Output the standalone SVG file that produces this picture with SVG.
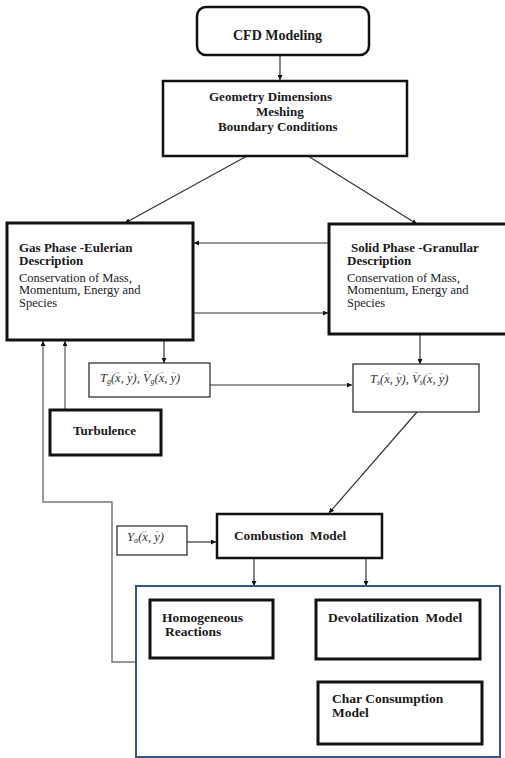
<svg xmlns="http://www.w3.org/2000/svg" width="505" height="758" viewBox="0 0 505 758" font-family="'Liberation Serif', 'Times New Roman', 'DejaVu Serif', serif">
<defs>
<style>
.box{fill:#fff;stroke:#111;stroke-width:3}
.mid{fill:#fff;stroke:#111;stroke-width:2.5}
.thin{fill:#fff;stroke:#222;stroke-width:1.2}
.blue{fill:#fff;stroke:#2e5597;stroke-width:2}
.c{fill:none;stroke:#333;stroke-width:1.2}
.g{fill:none;stroke:#777;stroke-width:1.5}
text{font-family:'Liberation Serif','Times New Roman','DejaVu Serif',serif;fill:#1a1a1a}
.b{font-weight:bold;font-size:13px}
.r{font-size:12.5px}
.m{font-style:italic;font-size:12.5px;fill:#333}
.s{font-size:8px}
.v{font-size:6px;font-style:normal}
</style>
<marker id="ah" viewBox="0 0 10 10" refX="10" refY="5" markerWidth="5" markerHeight="5" orient="auto" markerUnits="userSpaceOnUse">
<path d="M0,0L10,5L0,10z" fill="#111"/>
</marker>
</defs>
<rect width="505" height="758" fill="#fff"/>

<g id="connectors">
<line class="c" x1="280" y1="55" x2="280" y2="80" marker-end="url(#ah)"/>
<line class="c" x1="247" y1="156" x2="125" y2="223" marker-end="url(#ah)"/>
<line class="c" x1="308" y1="156" x2="417" y2="224" marker-end="url(#ah)"/>
<line class="c" x1="329" y1="243" x2="194" y2="243" marker-end="url(#ah)"/>
<line class="c" x1="193" y1="313" x2="328" y2="313" marker-end="url(#ah)"/>
<line class="c" x1="164" y1="340" x2="164" y2="363" marker-end="url(#ah)"/>
<line class="g" x1="210" y1="385" x2="352" y2="385" marker-end="url(#ah)"/>
<line class="c" x1="420" y1="334" x2="420" y2="364" marker-end="url(#ah)"/>
<line class="c" x1="417" y1="412" x2="329" y2="513" marker-end="url(#ah)"/>
<line class="g" x1="65" y1="410" x2="65" y2="341" marker-end="url(#ah)"/>
<polyline class="g" points="136,662 112,662 112,502 43,502 43,341" marker-end="url(#ah)"/>
<line class="c" x1="187" y1="542" x2="216" y2="542" marker-end="url(#ah)"/>
<line class="c" x1="254" y1="558" x2="254" y2="586" marker-end="url(#ah)"/>
<line class="c" x1="366" y1="558" x2="366" y2="586" marker-end="url(#ah)"/>
<line class="c" x1="371" y1="659" x2="371" y2="682" marker-end="url(#ah)"/>
</g>

<g id="cfd">
<rect class="mid" x="197" y="7" width="172" height="48" rx="9"/>
<text class="b" x="233" y="40" style="font-size:14px">CFD Modeling</text>
</g>

<g id="geometry">
<rect class="mid" x="163" y="81" width="244" height="75"/>
<text class="b" x="209" y="101">Geometry Dimensions</text>
<text class="b" x="256" y="116">Meshing</text>
<text class="b" x="218" y="131">Boundary Conditions</text>
</g>

<g id="gas">
<rect class="box" x="7" y="223" width="186" height="117"/>
<text class="b" x="19" y="252">Gas Phase -Eulerian</text>
<text class="b" x="19" y="265">Description</text>
<text class="r" x="19" y="282">Conservation of Mass,</text>
<text class="r" x="19" y="294">Momentum, Energy and</text>
<text class="r" x="19" y="307">Species</text>
</g>

<g id="solid">
<rect class="box" x="329" y="224" width="190" height="110"/>
<text class="b" x="351" y="252">Solid Phase -Granullar</text>
<text class="b" x="347" y="265">Description</text>
<text class="r" x="347" y="282">Conservation of Mass,</text>
<text class="r" x="347" y="294">Momentum, Energy and</text>
<text class="r" x="347" y="307">Species</text>
</g>

<g id="tg">
<rect class="thin" x="89" y="363" width="121" height="34"/>
<text class="m" x="100" y="382">T<tspan class="s" dy="2">g</tspan><tspan dy="-2">(x</tspan><tspan class="v" dx="-5.8" dy="-8">→</tspan><tspan dx="-0.2" dy="8">, y</tspan><tspan class="v" dx="-5.8" dy="-8">→</tspan><tspan dx="-0.2" dy="8">), V</tspan><tspan class="v" dx="-6.8" dy="-9">→</tspan><tspan class="s" dx="0.8" dy="11">g</tspan><tspan dy="-2">(x</tspan><tspan class="v" dx="-5.8" dy="-8">→</tspan><tspan dx="-0.2" dy="8">, y</tspan><tspan class="v" dx="-5.8" dy="-8">→</tspan><tspan dx="-0.2" dy="8">)</tspan></text>
</g>

<g id="ts">
<rect class="thin" x="353" y="364" width="126" height="48"/>
<text class="m" x="370" y="383">T<tspan class="s" dy="2">s</tspan><tspan dy="-2">(x</tspan><tspan class="v" dx="-5.8" dy="-8">→</tspan><tspan dx="-0.2" dy="8">, y</tspan><tspan class="v" dx="-5.8" dy="-8">→</tspan><tspan dx="-0.2" dy="8">), V</tspan><tspan class="v" dx="-6.8" dy="-9">→</tspan><tspan class="s" dx="0.8" dy="11">s</tspan><tspan dy="-2">(x</tspan><tspan class="v" dx="-5.8" dy="-8">→</tspan><tspan dx="-0.2" dy="8">, y</tspan><tspan class="v" dx="-5.8" dy="-8">→</tspan><tspan dx="-0.2" dy="8">)</tspan></text>
</g>

<g id="turbulence">
<rect class="box" x="50" y="410" width="111" height="45"/>
<text class="b" x="73" y="435">Turbulence</text>
</g>

<g id="yalpha">
<rect class="thin" x="117" y="526" width="70" height="29"/>
<text class="m" x="127" y="541">Y<tspan class="s" dy="2">α</tspan><tspan dy="-2">(x</tspan><tspan class="v" dx="-5.8" dy="-8">→</tspan><tspan dx="-0.2" dy="8">, y</tspan><tspan class="v" dx="-5.8" dy="-8">→</tspan><tspan dx="-0.2" dy="8">)</tspan></text>
</g>

<g id="combustion">
<rect class="mid" x="217" y="514" width="165" height="44"/>
<text class="b" x="234" y="540" style="font-size:13.3px">Combustion&#160; Model</text>
</g>

<g id="submodels">
<rect class="blue" x="136" y="586" width="364" height="171"/>
</g>

<g id="homogeneous">
<rect class="box" x="150" y="600" width="123" height="58"/>
<text class="b" x="162" y="622" style="font-size:13.5px">Homogeneous</text>
<text class="b" x="165" y="636" style="font-size:13.5px">Reactions</text>
</g>

<g id="devolatilization">
<rect class="box" x="316" y="600" width="164" height="59"/>
<text class="b" x="328" y="622" style="font-size:13.5px">Devolatilization&#160; Model</text>
</g>

<g id="char">
<rect class="box" x="318" y="682" width="164" height="62"/>
<text class="b" x="332" y="703" style="font-size:13.5px">Char Consumption</text>
<text class="b" x="332" y="717" style="font-size:13.5px">Model</text>
</g>
</svg>
